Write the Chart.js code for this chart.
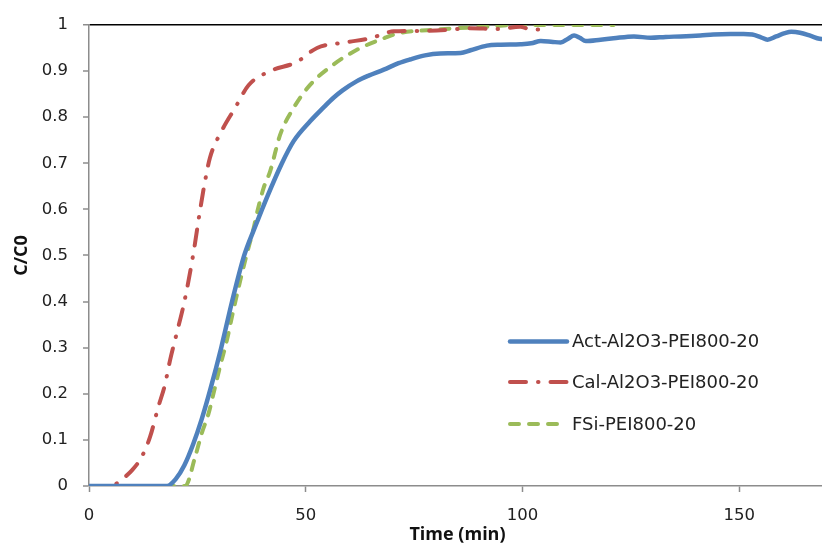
<!DOCTYPE html>
<html>
<head>
<meta charset="utf-8">
<script src="https://cdn.jsdelivr.net/npm/chart.js@4"></script>
<style>
html,body{margin:0;padding:0;background:#fff;overflow:hidden;}
#wrap{position:relative;width:826px;height:545px;}
</style>
</head>
<body>
<div id="wrap"><canvas id="c"></canvas></div>
<script>
// ---- data ----
const seriesNames = ['Act-Al2O3-PEI800-20', 'Cal-Al2O3-PEI800-20', 'FSi-PEI800-20'];

const actTime = [0, 10, 18, 20, 22, 24, 26, 28, 30.5, 33, 35.8, 38, 39.5, 41, 44.5, 47.2, 51, 54, 56.4, 58.5, 61.8, 64.5, 68, 71.4, 74, 77.5, 81, 85.7, 88, 91.8, 95, 99.5, 102, 104.2, 107, 108.8, 110.5, 111.9, 113.2, 114.6, 118, 121, 125.7, 129.6, 133, 136.5, 141, 144, 148, 151, 153, 155, 156.5, 158.5, 160.5, 162, 164, 166.5, 168.5, 170];
const actC = [0, 0, 0, 0.015, 0.045, 0.09, 0.145, 0.21, 0.3, 0.4, 0.5, 0.555, 0.59, 0.625, 0.7, 0.748, 0.791, 0.82, 0.842, 0.858, 0.878, 0.89, 0.903, 0.917, 0.925, 0.934, 0.938, 0.939, 0.945, 0.955, 0.957, 0.958, 0.96, 0.965, 0.963, 0.962, 0.97, 0.977, 0.972, 0.965, 0.968, 0.971, 0.975, 0.972, 0.974, 0.975, 0.977, 0.979, 0.98, 0.98, 0.979, 0.973, 0.968, 0.975, 0.982, 0.985, 0.983, 0.976, 0.97, 0.969];

const calTime = [0, 5, 7.5, 10, 12.2, 14.1, 16, 17.5, 18.7, 20.2, 22, 24, 25.6, 26.8, 27.9, 30.6, 33.7, 36.8, 41.8, 47.8, 52.6, 59.1, 64.9, 70.3, 77.2, 82.6, 88, 94.1, 99.5, 101.5, 104];
const calC = [0, 0, 0.014, 0.035, 0.064, 0.107, 0.172, 0.219, 0.273, 0.33, 0.4, 0.5, 0.597, 0.663, 0.712, 0.77, 0.82, 0.869, 0.9, 0.919, 0.95, 0.962, 0.971, 0.986, 0.987, 0.989, 0.993, 0.991, 0.996, 0.991, 0.99];

const fsiTime = [0, 10, 20, 22.2, 24.5, 26, 27.6, 28.7, 30.2, 31.8, 33.3, 34.9, 36.4, 38, 38.7, 40.3, 41.8, 44.1, 47.2, 51, 56.4, 61.8, 68, 71.4, 78.8, 87.2, 93, 98, 105.7, 112, 118, 121];
const fsiC = [0, 0, 0, 0, 0.064, 0.114, 0.158, 0.2, 0.258, 0.316, 0.381, 0.446, 0.503, 0.56, 0.59, 0.647, 0.683, 0.762, 0.82, 0.87, 0.914, 0.946, 0.971, 0.982, 0.989, 0.994, 0.997, 1.0, 1.0, 1.0, 1.0, 1.0];

const xTicks = [0, 50, 100, 150];
const yTicks = [0, 0.1, 0.2, 0.3, 0.4, 0.5, 0.6, 0.7, 0.8, 0.9, 1];

const colors = ['#4F81BD', '#C0504D', '#9BBB59'];
const FONT = '"DejaVu Sans", Verdana, sans-serif';
const TFONT = '"Open Sans", "DejaVu Sans", sans-serif';

function pts(t, v) { return t.map((x, i) => ({x: x, y: v[i]})); }

const legendPlugin = {
  id: 'insideLegend',
  afterDatasetsDraw(chart) {
    const ctx = chart.ctx;
    const rows = [341.5, 382, 424];
    ctx.save();
    chart.data.datasets.forEach((ds, i) => {
      const y = rows[i];
      ctx.beginPath();
      ctx.strokeStyle = ds.borderColor;
      ctx.lineWidth = ds.borderWidth;
      ctx.lineCap = ds.borderCapStyle || 'butt';
      ctx.setLineDash(ds.borderDash || []);
      ctx.moveTo(510, y);
      ctx.lineTo(567, y);
      ctx.stroke();
      ctx.setLineDash([]);
      ctx.fillStyle = '#222';
      ctx.font = '18px ' + FONT;
      ctx.textBaseline = 'middle';
      ctx.textAlign = 'left';
      ctx.fillText(ds.label, 572, y + 1);
    });
    ctx.restore();
  }
};

new Chart(document.getElementById('c'), {
  type: 'line',
  data: {
    datasets: [
      {label: seriesNames[0], data: pts(actTime, actC), borderColor: colors[0], borderWidth: 4.5, borderCapStyle: 'round', borderJoinStyle: 'round', pointRadius: 0, cubicInterpolationMode: 'monotone', fill: false},
      {label: seriesNames[1], data: pts(calTime, calC), borderColor: colors[1], borderWidth: 4, borderCapStyle: 'round', borderDash: [16, 12, 0.5, 12], pointRadius: 0, cubicInterpolationMode: 'monotone', fill: false},
      {label: seriesNames[2], data: pts(fsiTime, fsiC), borderColor: colors[2], borderWidth: 4, borderCapStyle: 'round', borderDash: [9, 10], pointRadius: 0, cubicInterpolationMode: 'monotone', fill: false}
    ]
  },
  options: {
    responsive: true,
    maintainAspectRatio: false,
    animation: false,
    layout: {padding: {top: 23, right: 0, left: 0, bottom: 0}},
    plugins: {legend: {display: false}, tooltip: {enabled: false}},
    scales: {
      x: {
        type: 'linear', min: 0, max: 170,
        afterBuildTicks(s) { s.ticks = xTicks.map(v => ({value: v})); },
        afterFit(s) { s.height = 59; },
        grid: {display: true, drawOnChartArea: false, drawTicks: true, tickLength: 6, tickColor: '#8c8c8c', tickWidth: 1.5},
        border: {display: true, color: '#8c8c8c', width: 1.5},
        ticks: {color: '#222', font: {size: 16.5, family: FONT}, padding: 14, maxRotation: 0},
        title: {display: true, text: 'Time (min)', color: '#111', font: {size: 18, weight: 'bold', family: TFONT}, padding: {top: 0, bottom: -1}}
      },
      y: {
        min: 0, max: 1,
        afterBuildTicks(s) { s.ticks = yTicks.map(v => ({value: v})); },
        afterFit(s) { s.width = 89; },
        grid: {
          drawTicks: true, tickLength: 6, tickWidth: 1.5, tickColor: '#8c8c8c',
          color: c => (c.tick && c.tick.value === 1) ? '#000' : 'rgba(0,0,0,0)',
          lineWidth: c => (c.tick && c.tick.value === 1) ? 1.5 : 0
        },
        border: {display: true, color: '#8c8c8c', width: 1.5},
        ticks: {color: '#222', font: {size: 16.5, family: FONT}, padding: 15, callback: v => String(Math.round(v * 10) / 10)},
        title: {display: true, text: 'C/C0', color: '#111', font: {size: 18, weight: 'bold', family: TFONT}, padding: {top: 11, bottom: 0}}
      }
    }
  },
  plugins: [legendPlugin]
});
</script>
</body>
</html>
